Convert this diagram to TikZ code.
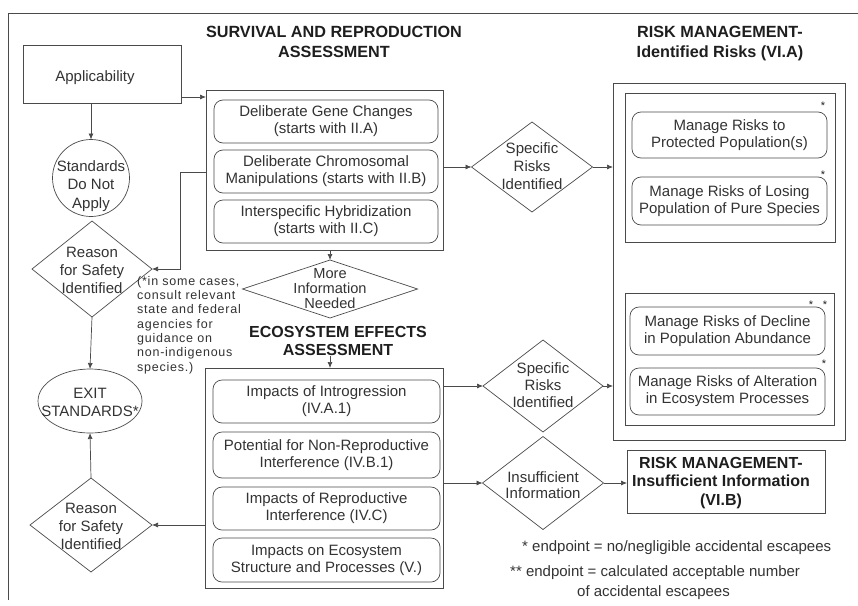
\documentclass[tikz,border=0pt]{standalone}
\usepackage{fontspec}
\setmainfont{Liberation Sans}
\newfontfamily\notefont[LetterSpace=6]{Liberation Sans}
\usetikzlibrary{shapes.geometric,arrows.meta}
\definecolor{linec}{HTML}{4A4A4A}
\definecolor{txtc}{HTML}{333333}
\definecolor{headc}{HTML}{1E1E1E}
\begin{document}
\begin{tikzpicture}[x=1pt,y=-1pt,
  ln/.style={draw=linec, line width=0.7pt},
  box/.style={draw=linec, line width=0.7pt, rectangle, inner sep=0pt, outer sep=0pt},
  rbox/.style={box, rounded corners=9pt},
  dia/.style={box, diamond},
  bodytxt/.style={font=\fontsize{15}{17}\selectfont, text=txtc, align=center, inner sep=0pt},
  headtxt/.style={font=\bfseries\fontsize{16.2}{20}\selectfont, text=headc, align=center, inner sep=0pt},
  notetxt/.style={font=\notefont\fontsize{12.5}{14.3}\selectfont, text=txtc, align=left, inner sep=0pt},
  astx/.style={font=\fontsize{11}{11}\selectfont, text=headc, inner sep=0pt},
  arr/.style={ln, -{Latex[length=6pt,width=5pt]}}
]
\useasboundingbox[fill=white] (0,0) rectangle (858,605);
% frame
\draw[ln] (8,600) -- (8,13) -- (858,13);

% headings
\node[headtxt] (srhead) at (334,42) {SURVIVAL AND REPRODUCTION\\ASSESSMENT};
\node[headtxt] (rmhead) at (720,44) {RISK MANAGEMENT-\\Identified Risks (VI.A)};
\node[headtxt, font=\bfseries\fontsize{16}{18}\selectfont] (eehead) at (338,341) {ECOSYSTEM EFFECTS\\ASSESSMENT};

% left column
\node[box, minimum width=158, minimum height=58] (app) at (102,74) {};
\node[bodytxt] (apptxt) at (95,78) {Applicability};
\node[box, circle, minimum size=77] (std) at (91,178) {};
\node[bodytxt, font=\fontsize{15}{18.5}\selectfont] (stdtxt) at (91,186) {Standards\\Do Not\\Apply};
\node[dia, minimum width=120, minimum height=96] (rs1) at (92,269) {};
\node[bodytxt, font=\fontsize{15}{18}\selectfont] (rs1txt) at (92,270) {Reason\\for Safety\\Identified};
\node[box, ellipse, minimum width=104, minimum height=64] (exit) at (90,401) {};
\node[bodytxt, font=\fontsize{15}{18}\selectfont] (exittxt) at (90,402) {EXIT\\STANDARDS*};
\node[dia, minimum width=122, minimum height=94] (rs2) at (91,525) {};
\node[bodytxt, font=\fontsize{15}{18}\selectfont] (rs2txt) at (91,526) {Reason\\for Safety\\Identified};

\node[notetxt, anchor=north west] (note) at (137,276) {(*in some cases,\\consult relevant\\state and federal\\agencies for\\guidance on\\non-indigenous\\species.)};

% survival and reproduction box
\node[box, minimum width=237, minimum height=160] (srbox) at (324.5,170) {};
\node[rbox, bodytxt, draw=linec, minimum width=224, minimum height=43] (sr1) at (326,121.5) {Deliberate Gene Changes\\(starts with II.A)};
\node[rbox, bodytxt, draw=linec, minimum width=224, minimum height=43] (sr2) at (326,171.5) {Deliberate Chromosomal\\Manipulations (starts with II.B)};
\node[rbox, bodytxt, draw=linec, minimum width=224, minimum height=43] (sr3) at (326,221.5) {Interspecific Hybridization\\(starts with II.C)};

\node[dia, minimum width=175, minimum height=58] (mi) at (330,289) {};
\node[bodytxt, font=\fontsize{14.6}{15}\selectfont] (mitxt) at (330,289) {More\\Information\\Needed};

% ecosystem effects box
\node[box, minimum width=238, minimum height=220] (eebox) at (324,478) {};
\node[rbox, bodytxt, draw=linec, minimum width=227, minimum height=43] (ee1) at (326.5,401.5) {Impacts of Introgression\\(IV.A.1)};
\node[rbox, bodytxt, draw=linec, minimum width=227, minimum height=46] (ee2) at (326.5,455) {Potential for Non-Reproductive\\Interference (IV.B.1)};
\node[rbox, bodytxt, draw=linec, minimum width=227, minimum height=43] (ee3) at (326.5,508.5) {Impacts of Reproductive\\Interference (IV.C)};
\node[rbox, bodytxt, draw=linec, minimum width=227, minimum height=44] (ee4) at (326.5,560) {Impacts on Ecosystem\\Structure and Processes (V.)};

% decision diamonds right
\node[dia, minimum width=121, minimum height=90] (sri1) at (532,167) {};
\node[bodytxt, font=\fontsize{15}{18}\selectfont] (sri1txt) at (532,166) {Specific\\Risks\\Identified};
\node[dia, minimum width=120, minimum height=92] (sri2) at (543,386) {};
\node[bodytxt, font=\fontsize{15}{17}\selectfont] (sri2txt) at (543,385) {Specific\\Risks\\Identified};
\node[dia, minimum width=121, minimum height=93] (insuf) at (543,483) {};
\node[bodytxt, font=\fontsize{15}{16}\selectfont] (insuftxt) at (543,485) {Insufficient\\Information};

% risk management box
\node[box, minimum width=232, minimum height=357] (rmbox) at (729,261.5) {};
\node[box, minimum width=210, minimum height=149] (in1) at (730,167.5) {};
\node[box, minimum width=209, minimum height=132] (in2) at (729.5,359) {};
\node[rbox, bodytxt, draw=linec, minimum width=195, minimum height=46] (rb1) at (729.5,135) {Manage Risks to\\Protected Population(s)};
\node[rbox, bodytxt, draw=linec, minimum width=195, minimum height=48] (rb2) at (729.5,201) {Manage Risks of Losing\\Population of Pure Species};
\node[rbox, bodytxt, draw=linec, minimum width=195, minimum height=48] (rb3) at (727.5,331) {Manage Risks of Decline\\in Population Abundance};
\node[rbox, bodytxt, draw=linec, minimum width=195, minimum height=47] (rb4) at (727.5,391.5) {Manage Risks of Alteration\\in Ecosystem Processes};
\node[astx] (m1) at (823,106) {*};
\node[astx] (m2) at (823,175) {*};
\node[astx] (m3) at (811,305) {*};
\node[astx] (m4) at (825,305) {*};
\node[astx] (m5) at (824,364) {*};

\node[box, minimum width=198, minimum height=63] (rmi) at (726,481.5) {};
\node[headtxt, font=\bfseries\fontsize{16}{18.5}\selectfont] (rmitxt) at (721,483) {RISK MANAGEMENT-\\Insufficient Information\\(VI.B)};

% footnotes
\node[bodytxt, anchor=west] (fn1) at (522,548) {* endpoint = no/negligible accidental escapees};
\node[bodytxt, anchor=west] (fn2) at (510,573) {** endpoint = calculated acceptable number};
\node[bodytxt, anchor=west] (fn3) at (577,593) {of accidental escapees};

% connectors
\coordinate (a0) at ([yshift=6pt]app.south east);
\draw[arr] (a0) -- (a0 -| srbox.west);
\draw[arr] (std.north |- app.south) -- (std.north);
\coordinate (c1) at (180,172);
\draw[arr] (c1 -| srbox.west) -- (c1) |- (rs1.east);
\draw[arr] (rs1.south) -- (exit.north);
\draw[arr] (rs2.north) -- (exit.south);
\draw[arr] (eebox.west |- rs2.east) -- (rs2.east);
\draw[arr] (mi.north |- srbox.south) -- (mi.north);
\draw[arr] (mi.south |- eehead.south) -- (mi.south |- eebox.north);
\draw[arr] (srbox.east |- sri1.west) -- (sri1.west);
\draw[arr] (sri1.east) -- (sri1.east -| rmbox.west);
\draw[arr] (eebox.east |- sri2.west) -- (sri2.west);
\draw[arr] (sri2.east) -- (sri2.east -| rmbox.west);
\draw[arr] (eebox.east |- insuf.west) -- (insuf.west);
\draw[arr] (insuf.east) -- (insuf.east -| rmi.west);
\end{tikzpicture}
\end{document}
